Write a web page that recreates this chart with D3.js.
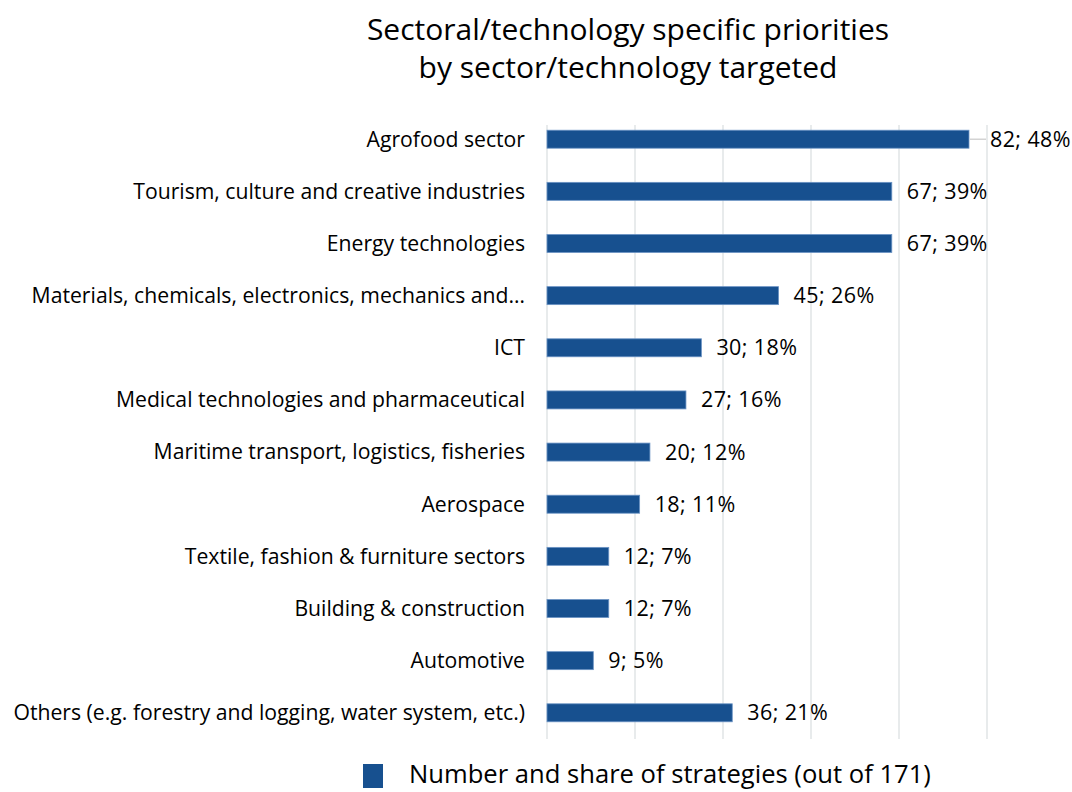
<!DOCTYPE html>
<html>
<head>
<meta charset="utf-8">
<script src="https://cdn.jsdelivr.net/npm/d3@7"></script>
<style>
  html, body { margin: 0; padding: 0; background: #fff; }
  svg text { font-family: "Open Sans", Roboto, sans-serif; fill: #000; }
</style>
</head>
<body>
<svg id="chart" width="1072" height="792"></svg>
<script>
// Sectors targeted by smart specialisation strategies
const categories = [
  "Agrofood sector",
  "Tourism, culture and creative industries",
  "Energy technologies",
  "Materials, chemicals, electronics, mechanics and\u2026",
  "ICT",
  "Medical technologies and pharmaceutical",
  "Maritime transport, logistics, fisheries",
  "Aerospace",
  "Textile, fashion & furniture sectors",
  "Building & construction",
  "Automotive",
  "Others (e.g. forestry and logging, water system, etc.)"
];
const counts = [82, 67, 67, 45, 30, 27, 20, 18, 12, 12, 9, 36];
const totalStrategies = 171;
const shareTicks = [0, 0.1, 0.2, 0.3, 0.4, 0.5];
const titleLines = ["Sectoral/technology specific priorities", "by sector/technology targeted"];
const legendLabel = "Number and share of strategies (out of 171)";

const svg = d3.select("#chart");
const margin = { left: 547, right: 85, top: 113, bottom: 53 };
const W = 1072, H = 792;

const x = d3.scaleLinear().domain([0, 0.5]).range([margin.left, W - margin.right]);
const y = d3.scaleBand().domain(categories).range([margin.top, H - margin.bottom]).paddingInner(0.655).paddingOuter(0.33);

// Title
svg.append("g").selectAll("text").data(titleLines).join("text")
  .attr("x", 628).attr("y", (d, i) => 40 + i * 38)
  .attr("text-anchor", "middle")
  .style("font-size", "30px")
  .text(d => d);

// Vertical gridlines
svg.append("g").selectAll("line").data(shareTicks).join("line")
  .attr("x1", d => x(d)).attr("x2", d => x(d))
  .attr("y1", 125).attr("y2", 739)
  .attr("stroke", "#e1e4e6").attr("stroke-width", 1.5);

// Category axis labels
const yAxis = d3.axisLeft(y).tickSize(0).tickPadding(22);
const yg = svg.append("g").attr("transform", `translate(${margin.left},0)`).call(yAxis);
yg.select(".domain").remove();
yg.selectAll("text").style("font-size", "21.2px").attr("dy", "0.35em")
  .style("font-family", "'Open Sans', Roboto, sans-serif");

// Bars
const data = categories.map((c, i) => ({ cat: c, n: counts[i], share: counts[i] / totalStrategies }));
svg.append("g").selectAll("rect").data(data).join("rect")
  .attr("x", x(0))
  .attr("y", d => y(d.cat))
  .attr("width", d => x(d.share) - x(0))
  .attr("height", y.bandwidth())
  .attr("fill", "#17508f")
  .attr("stroke", "#6b93c4").attr("stroke-width", 0.8);

// Value labels; the longest bar's label sits past the last gridline with a leader line
const labelX = d => d.share > 0.45 ? x(d.share) + 21 : x(d.share) + 15;
const labels = svg.append("g");
labels.selectAll("line").data(data.filter(d => d.share > 0.45)).join("line")
  .attr("x1", d => x(d.share) + 1).attr("x2", d => x(d.share) + 17)
  .attr("y1", d => y(d.cat) + y.bandwidth() / 2).attr("y2", d => y(d.cat) + y.bandwidth() / 2)
  .attr("stroke", "#c8c8c8").attr("stroke-width", 1.2);
labels.selectAll("text").data(data).join("text")
  .attr("x", labelX)
  .attr("y", d => y(d.cat) + y.bandwidth() / 2)
  .attr("dy", "0.35em")
  .style("font-size", "21.5px")
  .style("letter-spacing", "0.4px")
  .text(d => `${d.n}; ${Math.round(d.share * 100)}%`);

// Legend
const lg = svg.append("g");
lg.append("rect").attr("x", 363).attr("y", 764).attr("width", 20).attr("height", 24).attr("fill", "#17508f");
lg.append("text").attr("x", 409).attr("y", 783).style("font-size", "25.6px").text(legendLabel);
</script>
</body>
</html>
